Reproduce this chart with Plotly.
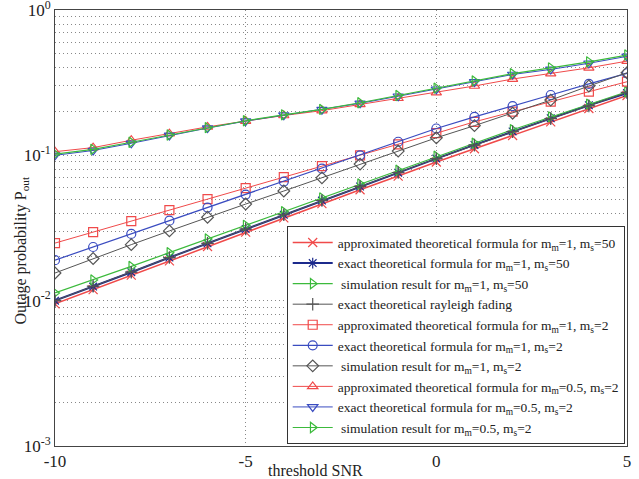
import plotly.graph_objects as go

x_int = list(range(-10, 6))

# m_m=1, m_s=50 group
approx_1_50 = [0.0095, 0.0119, 0.0150, 0.0188, 0.0236, 0.0296, 0.0371, 0.0465, 0.058, 0.072, 0.090, 0.111, 0.137, 0.170, 0.210, 0.258]
exact_1_50 = [0.0100, 0.0125, 0.0157, 0.0198, 0.0248, 0.0311, 0.0390, 0.0488, 0.0610, 0.0760, 0.0950, 0.118, 0.146, 0.180, 0.221, 0.268]
sim_1_50 = [0.0113, 0.0139, 0.0172, 0.0214, 0.0266, 0.033, 0.041, 0.051, 0.0635, 0.079, 0.0985, 0.121, 0.150, 0.184, 0.225, 0.274]
rayleigh = [0.0100, 0.0126, 0.0157, 0.0198, 0.0248, 0.0311, 0.0390, 0.0489, 0.0611, 0.0762, 0.0948, 0.1175, 0.1455, 0.1790, 0.2190, 0.2710]

# m_m=1, m_s=2 group
approx_1_2 = [0.0249, 0.0296, 0.0353, 0.042, 0.050, 0.0594, 0.0708, 0.0843, 0.100, 0.119, 0.142, 0.170, 0.200, 0.234, 0.274, 0.321]
exact_1_2 = [0.019, 0.0234, 0.0288, 0.0355, 0.0437, 0.0537, 0.066, 0.081, 0.100, 0.124, 0.153, 0.184, 0.218, 0.26, 0.31, 0.367]
sim_1_2 = [0.0155, 0.0195, 0.0243, 0.0302, 0.0375, 0.0462, 0.0568, 0.070, 0.087, 0.107, 0.132, 0.160, 0.195, 0.24, 0.30, 0.37]

# m_m=0.5, m_s=2 group
approx_05_2 = [0.106, 0.113, 0.127, 0.141, 0.157, 0.172, 0.188, 0.203, 0.224, 0.247, 0.27, 0.30, 0.335, 0.365, 0.40, 0.445]
exact_05_2 = [0.100, 0.108, 0.121, 0.137, 0.154, 0.172, 0.189, 0.206, 0.228, 0.255, 0.285, 0.32, 0.36, 0.39, 0.43, 0.48]
sim_05_2 = [0.102, 0.110, 0.123, 0.138, 0.155, 0.173, 0.190, 0.207, 0.230, 0.258, 0.29, 0.325, 0.365, 0.40, 0.44, 0.49]

RED = "#f04a4a"
BLUE = "#3a4cc0"
NAVY = "#1c2a8c"
GREEN = "#3cba3c"
GRAY = "#555555"

def lbl(mm, ms):
    return f"m<sub>m</sub>={mm}, m<sub>s</sub>={ms}"

series = [
    ("approximated theoretical formula for " + lbl(1, 50), x_int, approx_1_50, RED, "x-thin-open", 1.5),
    ("exact theoretical formula for " + lbl(1, 50), x_int, exact_1_50, NAVY, "asterisk-open", 2),
    (" simulation result for " + lbl(1, 50), x_int, sim_1_50, GREEN, "triangle-right-open", 1.2),
    ("exact theoretical rayleigh fading", x_int, rayleigh, GRAY, "cross-thin-open", 1),
    ("approximated theoretical formula for " + lbl(1, 2), x_int, approx_1_2, RED, "square-open", 1),
    ("exact theoretical formula for " + lbl(1, 2), x_int, exact_1_2, BLUE, "circle-open", 1.2),
    (" simulation result for " + lbl(1, 2), x_int, sim_1_2, GRAY, "diamond-open", 1),
    ("approximated theoretical formula for " + lbl(0.5, 2), x_int, approx_05_2, RED, "triangle-up-open", 1),
    ("exact theoretical formula for " + lbl(0.5, 2), x_int, exact_05_2, BLUE, "triangle-down-open", 1),
    (" simulation result for " + lbl(0.5, 2), x_int, sim_05_2, GREEN, "triangle-right-open", 1.2),
]

fig = go.Figure()
for name, xs, ys, col, sym, lw in series:
    fig.add_trace(go.Scatter(
        x=xs, y=ys, name=name, mode="lines+markers",
        line=dict(color=col, width=lw),
        marker=dict(symbol=sym, size=9, color=col, line=dict(color=col, width=1.2)),
    ))

FONT = "Liberation Serif"
GRIDDASH = "1px,3px"
fig.update_layout(
    width=639, height=479,
    margin=dict(l=55, r=12, t=10, b=33, autoexpand=False),
    paper_bgcolor="white", plot_bgcolor="white",
    font=dict(family=FONT, size=15, color="#222"),
    showlegend=True,
    legend=dict(
        x=0.996, y=0.004, xanchor="right", yanchor="bottom",
        bgcolor="white", bordercolor="#333", borderwidth=1,
        font=dict(family=FONT, size=13.5, color="#222"),
        itemwidth=40, tracegroupgap=0,
    ),
)
fig.update_xaxes(
    range=[-10, 5], tickvals=[-10, -5, 0, 5], ticktext=["-10", "-5", "0", "5"],
    showline=True, linecolor="#444", linewidth=1, mirror=True,
    showgrid=True, gridcolor="#888", griddash=GRIDDASH, gridwidth=1,
    zeroline=False, ticks="", tickfont=dict(size=17, family=FONT),
    ticklabeloverflow="allow", automargin=False,
)
fig.update_yaxes(
    type="log", range=[-3, 0],
    tickvals=[0.001, 0.01, 0.1, 1],
    ticktext=["10<sup>-3</sup>", "10<sup>-2</sup>", "10<sup>-1</sup>", "10<sup>0</sup>"],
    showline=True, linecolor="#444", linewidth=1, mirror=True,
    showgrid=True, gridcolor="#888", griddash=GRIDDASH, gridwidth=1,
    minor=dict(dtick="D1", showgrid=True, gridcolor="#888", griddash=GRIDDASH, ticks=""),
    zeroline=False, ticks="", tickfont=dict(size=17, family=FONT),
    ticklabeloverflow="allow", automargin=False,
)
fig.add_annotation(text="threshold SNR", xref="paper", yref="paper", x=0.456, y=-0.033,
                   xanchor="center", yanchor="top", showarrow=False,
                   font=dict(family=FONT, size=16, color="#222"))
fig.add_annotation(text="Outage probability P<sub>out</sub>", xref="paper", yref="paper",
                   x=-0.058, y=0.45, textangle=-90, xanchor="center", yanchor="middle",
                   showarrow=False, font=dict(family=FONT, size=16, color="#222"))

fig.write_html("out.html", config={"displayModeBar": False},
               post_script="document.body.style.margin='0px';document.body.style.padding='0px';")
